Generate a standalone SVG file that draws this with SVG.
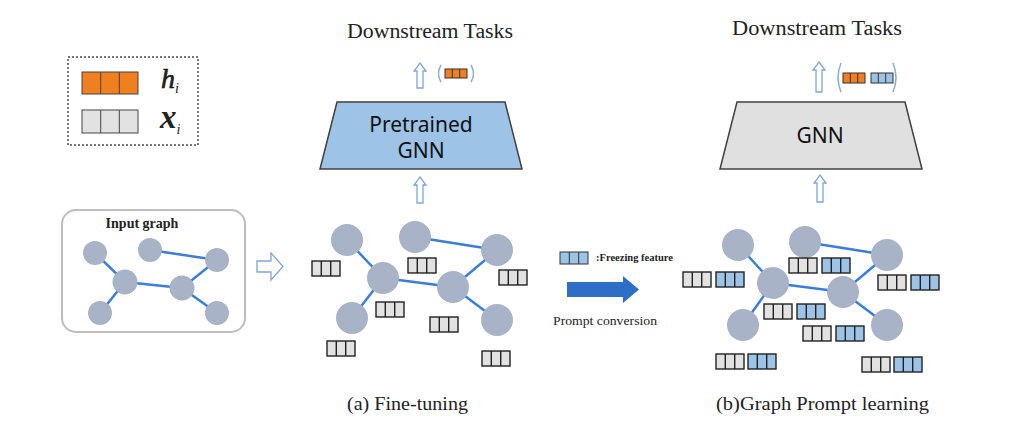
<svg xmlns="http://www.w3.org/2000/svg" xmlns:xlink="http://www.w3.org/1999/xlink" width="1032" height="437" viewBox="0 0 1032 437">
<style>
.node{fill:#A8B3C7}
.edge{stroke:#3B7DDD;stroke-width:2.5;fill:none}
.cellg{fill:#E2E2E2;stroke:#222;stroke-width:1.4}
.cellb{fill:#9DC3E6;stroke:#222;stroke-width:1.4}
.hollow{fill:#fff;stroke:#7FA6D8;stroke-width:1.3}
.paren{fill:none;stroke:#8EAADB;stroke-width:1.5}
.serif{font-family:"Liberation Serif","Times New Roman",serif;fill:#222}
.sans{font-family:"Noto Sans","Liberation Sans",sans-serif;fill:#111}
</style>
<defs>
<g id="gbar"><rect class="cellg" x="0" y="0" width="28" height="15"/><line class="cellg" x1="9.3" y1="0" x2="9.3" y2="15"/><line class="cellg" x1="18.7" y1="0" x2="18.7" y2="15"/></g>
<g id="bbar"><rect class="cellb" x="0" y="0" width="28" height="15"/><line class="cellb" x1="9.3" y1="0" x2="9.3" y2="15"/><line class="cellb" x1="18.7" y1="0" x2="18.7" y2="15"/></g>
</defs>
<rect width="1032" height="437" fill="#fff"/>

<!-- Legend -->
<g id="legend">
<rect x="68" y="57" width="130" height="88" fill="none" stroke="#777" stroke-width="2" stroke-dasharray="2 2"/>
<rect x="82" y="72" width="56" height="22" fill="#F07F1F" stroke="#444" stroke-width="1"/>
<line x1="100.7" y1="72" x2="100.7" y2="94" stroke="#444"/><line x1="119.3" y1="72" x2="119.3" y2="94" stroke="#444"/>
<rect x="82" y="110" width="56" height="23" fill="#E2E2E2" stroke="#444" stroke-width="1"/>
<line x1="100.7" y1="110" x2="100.7" y2="133" stroke="#444"/><line x1="119.3" y1="110" x2="119.3" y2="133" stroke="#444"/>
<text class="serif" x="161" y="88" font-size="28" font-style="italic" fill="#111" stroke="#111" stroke-width="0.6">h<tspan dy="5" font-size="14" stroke-width="0">i</tspan></text>
<text class="serif" x="160" y="128" font-size="33" font-style="italic" font-weight="bold" fill="#111">x<tspan dy="6" font-size="14" font-weight="normal">i</tspan></text>
</g>

<!-- Input graph -->
<g id="input-graph">
<rect x="62" y="210" width="183" height="122" rx="14" fill="#fff" stroke="#BDBDBD" stroke-width="2"/>
<text class="serif" x="142" y="228" font-size="14" font-weight="bold" text-anchor="middle" fill="#111">Input graph</text>
<g class="edges">
<line class="edge" x1="95" y1="253" x2="125" y2="282"/>
<line class="edge" x1="125" y1="282" x2="100" y2="313"/>
<line class="edge" x1="125" y1="282" x2="182" y2="288"/>
<line class="edge" x1="150" y1="250" x2="217" y2="260"/>
<line class="edge" x1="217" y1="260" x2="182" y2="288"/>
<line class="edge" x1="182" y1="288" x2="217" y2="313"/>
</g>
<circle class="node" cx="95" cy="253" r="12"/>
<circle class="node" cx="150" cy="250" r="12"/>
<circle class="node" cx="217" cy="260" r="12"/>
<circle class="node" cx="125" cy="282" r="12.5"/>
<circle class="node" cx="182" cy="288" r="12.5"/>
<circle class="node" cx="100" cy="313" r="12"/>
<circle class="node" cx="217" cy="313" r="12"/>
</g>

<g id="arrow-input">
<path class="hollow" d="M257 261 H271 V253 L283 266.5 L271 280 V272 H257 Z"/>
</g>

<!-- Panel a -->
<g id="panel-a-top">
<text class="serif" x="430" y="38" font-size="20" text-anchor="middle" textLength="166" lengthAdjust="spacingAndGlyphs">Downstream Tasks</text>
<path class="hollow" d="M420 63 L426 71 H423 V88 H417 V71 H414 Z"/>
<path class="paren" d="M441 65 Q436 73.5 441 82"/>
<path class="paren" d="M471 65 Q476 73.5 471 82"/>
<rect x="445" y="69" width="22" height="9" fill="#F07F1F" stroke="#333" stroke-width="1"/>
<line x1="452.3" y1="69" x2="452.3" y2="78" stroke="#333"/><line x1="459.7" y1="69" x2="459.7" y2="78" stroke="#333"/>
</g>
<g id="pretrained-gnn">
<path d="M337 102 H505 L522 169 H320 Z" fill="#9DC3E6" stroke="#404040" stroke-width="1.5"/>
<text class="sans" x="421" y="132" font-size="21" text-anchor="middle">Pretrained</text>
<text class="sans" x="421" y="158" font-size="21" text-anchor="middle">GNN</text>
<path class="hollow" d="M420 177 L426 185 H423 V203 H417 V185 H414 Z"/>
</g>
<g id="panel-a-graph">
<g class="edges">
<line class="edge" x1="347" y1="240" x2="383" y2="278"/>
<line class="edge" x1="383" y1="278" x2="352" y2="318"/>
<line class="edge" x1="383" y1="278" x2="453" y2="287"/>
<line class="edge" x1="415" y1="237" x2="497" y2="250"/>
<line class="edge" x1="497" y1="250" x2="453" y2="287"/>
<line class="edge" x1="453" y1="287" x2="497" y2="320"/>
</g>
<circle class="node" cx="347" cy="240" r="16"/>
<circle class="node" cx="415" cy="237" r="16"/>
<circle class="node" cx="497" cy="250" r="16"/>
<circle class="node" cx="383" cy="278" r="16"/>
<circle class="node" cx="453" cy="287" r="16"/>
<circle class="node" cx="352" cy="318" r="16"/>
<circle class="node" cx="497" cy="320" r="16"/>
<use xlink:href="#gbar" x="312" y="261"/>
<use xlink:href="#gbar" x="408" y="258"/>
<use xlink:href="#gbar" x="499" y="270"/>
<use xlink:href="#gbar" x="376" y="302"/>
<use xlink:href="#gbar" x="430" y="317"/>
<use xlink:href="#gbar" x="327" y="341"/>
<use xlink:href="#gbar" x="482" y="351"/>
</g>
<text class="serif" x="347" y="410" font-size="18" textLength="121" lengthAdjust="spacingAndGlyphs">(a) Fine-tuning</text>

<!-- Middle -->
<g id="prompt-conversion">
<rect x="560" y="252" width="28" height="12" fill="#9DC3E6" stroke="#333" stroke-width="1"/>
<line x1="569.3" y1="252" x2="569.3" y2="264" stroke="#333"/><line x1="578.7" y1="252" x2="578.7" y2="264" stroke="#333"/>
<text class="serif" x="596" y="261" font-size="10" font-weight="bold" textLength="77" lengthAdjust="spacingAndGlyphs">:Freezing feature</text>
<path d="M567 282 H623 V276 L639 289.5 L623 303 V297 H567 Z" fill="#2F6EC6"/>
<text class="serif" x="553" y="325" font-size="12" textLength="104" lengthAdjust="spacingAndGlyphs">Prompt conversion</text>
</g>

<!-- Panel b -->
<g id="panel-b-top">
<text class="serif" x="817" y="35" font-size="20" text-anchor="middle" textLength="170" lengthAdjust="spacingAndGlyphs">Downstream Tasks</text>
<path class="hollow" d="M819 62 L825 70 H822 V92 H816 V70 H813 Z"/>
<path class="paren" d="M841 63 Q835 77.5 841 92"/>
<path class="paren" d="M893 63 Q899 77.5 893 92"/>
<rect x="843" y="73" width="22" height="10" fill="#F07F1F" stroke="#333" stroke-width="1"/>
<line x1="850.3" y1="73" x2="850.3" y2="83" stroke="#333"/><line x1="857.7" y1="73" x2="857.7" y2="83" stroke="#333"/>
<rect x="871" y="73" width="22" height="10" fill="#9DC3E6" stroke="#333" stroke-width="1"/>
<line x1="878.3" y1="73" x2="878.3" y2="83" stroke="#333"/><line x1="885.7" y1="73" x2="885.7" y2="83" stroke="#333"/>
</g>
<g id="gnn">
<path d="M737 102 H905 L922 169 H720 Z" fill="#E0E0E0" stroke="#404040" stroke-width="1.5"/>
<text class="sans" x="820" y="143" font-size="21" text-anchor="middle">GNN</text>
<path class="hollow" d="M820 175 L826 183 H823 V202 H817 V183 H814 Z"/>
</g>
<g id="panel-b-graph">
<g class="edges">
<line class="edge" x1="738" y1="245" x2="773" y2="283"/>
<line class="edge" x1="773" y1="283" x2="743" y2="325"/>
<line class="edge" x1="773" y1="283" x2="843" y2="292"/>
<line class="edge" x1="805" y1="242" x2="887" y2="255"/>
<line class="edge" x1="887" y1="255" x2="843" y2="292"/>
<line class="edge" x1="843" y1="292" x2="887" y2="325"/>
</g>
<circle class="node" cx="738" cy="245" r="16"/>
<circle class="node" cx="805" cy="242" r="16"/>
<circle class="node" cx="887" cy="255" r="16"/>
<circle class="node" cx="773" cy="283" r="16"/>
<circle class="node" cx="843" cy="292" r="16"/>
<circle class="node" cx="743" cy="325" r="16"/>
<circle class="node" cx="887" cy="325" r="16"/>
<use xlink:href="#gbar" x="683" y="272"/><use xlink:href="#bbar" x="716" y="272"/>
<use xlink:href="#gbar" x="789" y="258"/><use xlink:href="#bbar" x="822" y="258"/>
<use xlink:href="#gbar" x="878" y="275"/><use xlink:href="#bbar" x="911" y="275"/>
<use xlink:href="#gbar" x="764" y="304"/><use xlink:href="#bbar" x="797" y="304"/>
<use xlink:href="#gbar" x="803" y="326"/><use xlink:href="#bbar" x="836" y="326"/>
<use xlink:href="#gbar" x="716" y="354"/><use xlink:href="#bbar" x="748" y="354"/>
<use xlink:href="#gbar" x="862" y="357"/><use xlink:href="#bbar" x="894" y="357"/>
</g>
<text class="serif" x="716" y="410" font-size="18" textLength="213" lengthAdjust="spacingAndGlyphs">(b)Graph Prompt learning</text>
</svg>
